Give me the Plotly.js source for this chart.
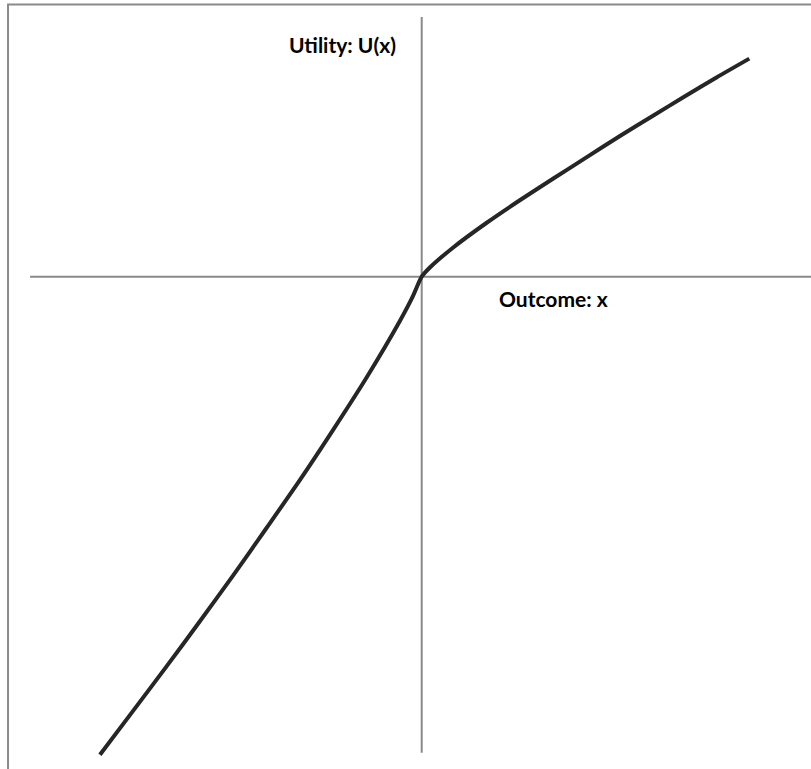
<!DOCTYPE html>
<html>
<head>
<meta charset="utf-8">
<script src="https://cdn.plot.ly/plotly-3.0.1.min.js"></script>
<style>
  html, body { margin: 0; padding: 0; background: #fff; }
  #chart { width: 811px; height: 769px; }
</style>
</head>
<body>
<div id="chart"></div>
<script>
// value function (outcome x -> utility U(x))
const lossX = [-9.90, -8.88, -7.85, -6.83, -5.80, -4.78, -3.75, -2.73, -1.70, -0.68, -0.27];
const lossU = [-14.71, -13.36, -11.99, -10.61, -9.19, -7.74, -6.26, -4.72, -3.11, -1.38, -0.60];
const gainX = [0, 0.26, 0.97, 2.0, 3.03, 4.05, 5.08, 6.10, 7.13, 8.05, 9.07, 10.08];
const gainU = [0, 0.29, 0.90, 1.66, 2.36, 3.02, 3.68, 4.33, 4.96, 5.52, 6.13, 6.71];

const outcome = lossX.concat(gainX);
const utility = lossU.concat(gainU);

// axis titles
const xLabel = 'Outcome: x';
const yLabel = 'Utility: U(x)';

// how far the drawn axis lines reach
const xAxisFrom = -12.05, xAxisTo = 12.5;
const yAxisTop = 7.99, yAxisBottom = -14.65;

const axisGrey = '#8a8a8a';
const labelFont = { family: 'Lato, "Open Sans", sans-serif', size: 21, color: '#000' };

const trace = {
  x: outcome,
  y: utility,
  mode: 'lines',
  line: { color: '#262626', width: 4, shape: 'spline', smoothing: 0.7 },
  hoverinfo: 'skip'
};

const layout = {
  width: 811,
  height: 769,
  margin: { l: 0, r: 0, t: 0, b: 0 },
  paper_bgcolor: '#fff',
  plot_bgcolor: '#fff',
  showlegend: false,
  xaxis: { range: [-12.975, 11.978], visible: false, fixedrange: true },
  yaxis: { range: [-15.148, 8.514], visible: false, fixedrange: true },
  shapes: [
    // frame round the picture
    { type: 'rect', xref: 'paper', yref: 'paper', x0: 0.0099, x1: 1.05, y0: -0.05, y1: 0.9941,
      line: { color: axisGrey, width: 2 } },
    // outcome axis
    { type: 'line', xref: 'x', yref: 'y', x0: xAxisFrom, x1: xAxisTo, y0: 0, y1: 0,
      line: { color: axisGrey, width: 2 }, layer: 'below' },
    // utility axis
    { type: 'line', xref: 'x', yref: 'y', x0: 0, x1: 0, y0: yAxisBottom, y1: yAxisTop,
      line: { color: axisGrey, width: 2 }, layer: 'below' }
  ],
  annotations: [
    { text: '<b>' + yLabel + '</b>', x: -0.72, y: 7.16, xref: 'x', yref: 'y',
      xanchor: 'right', yanchor: 'middle', showarrow: false, font: labelFont },
    { text: '<b>' + xLabel + '</b>', x: 5.8, y: -0.66, xref: 'x', yref: 'y',
      xanchor: 'right', yanchor: 'middle', showarrow: false, font: labelFont }
  ]
};

Plotly.newPlot('chart', [trace], layout, { staticPlot: true, displayModeBar: false });
</script>
</body>
</html>
